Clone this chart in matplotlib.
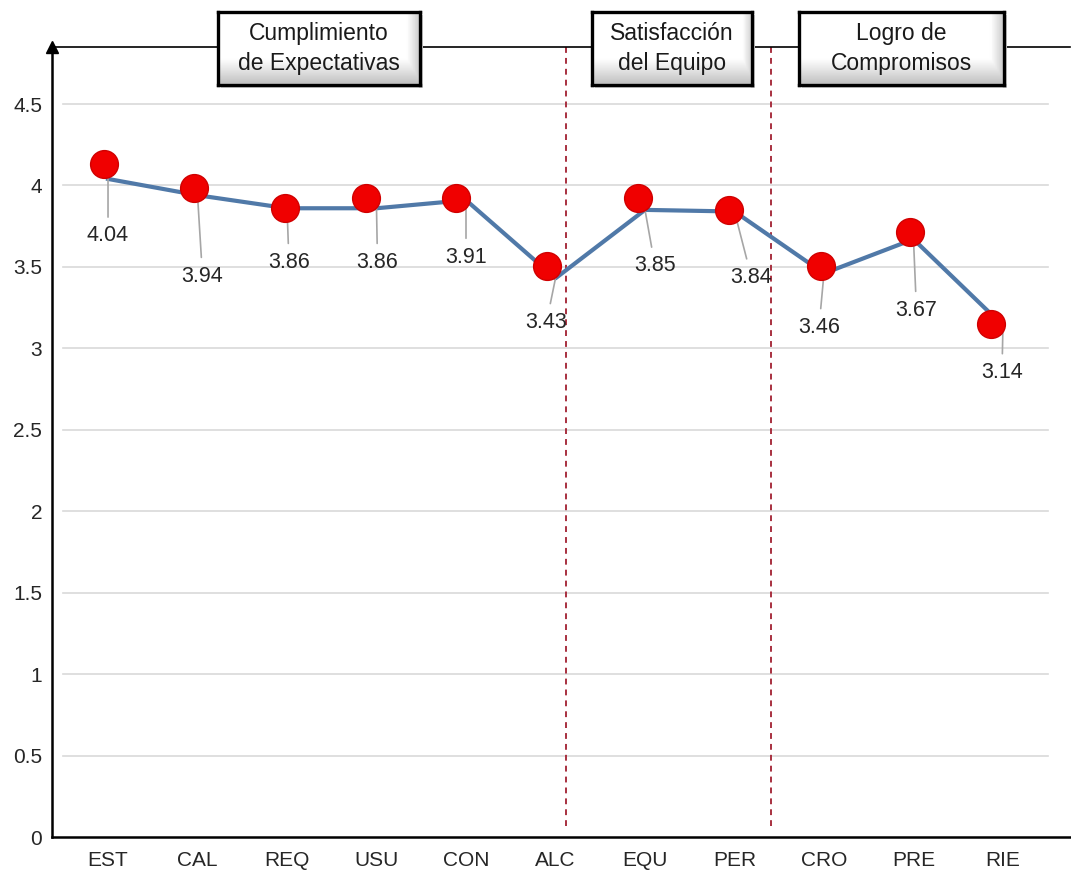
import numpy as np
import matplotlib
matplotlib.use("Agg")
import matplotlib.pyplot as plt
from matplotlib.transforms import offset_copy

plt.rcParams['font.family'] = ['Liberation Sans', 'DejaVu Sans']

categories = ['EST', 'CAL', 'REQ', 'USU', 'CON', 'ALC', 'EQU', 'PER', 'CRO', 'PRE', 'RIE']
scores = [4.04, 3.94, 3.86, 3.86, 3.91, 3.43, 3.85, 3.84, 3.46, 3.67, 3.14]
yticks = [0, 0.5, 1, 1.5, 2, 2.5, 3, 3.5, 4, 4.5]
ytick_labels = ['0', '0.5', '1', '1.5', '2', '2.5', '3', '3.5', '4', '4.5']
sections = ['Cumplimiento\nde Expectativas', 'Satisfacción\ndel Equipo', 'Logro de\nCompromisos']
section_breaks = [5.12, 7.41]

# hand placement (pixels): label offset below each point, pin offset from each point
label_offsets = [(0, 57), (5, 81), (2, 54), (1, 54), (0, 57), (-9, 44),
                 (10, 56), (17, 66), (-5, 54), (3, 71), (-1, 47)]
pin_offsets = [(-4, 15), (-4, 7), (-2, 0), (-11, 10), (-10, 2), (-8, 12),
               (-7, 12), (-5, 2), (-3, 7), (-3, 7), (-12, 2)]
# section boxes in pixels (x0, x1), all share the same top/bottom
box_px = [(218, 420), (592, 752), (799, 1004)]
box_top, box_bottom = 12, 85

W, H = 1071, 872
fig = plt.figure(figsize=(W / 100, H / 100), dpi=100)
ax = fig.add_axes([52 / W, (H - 837) / H, (1070 - 52) / W, (837 - 47) / H])

x = np.arange(len(categories))
ax.set_xlim(-0.626, 10.749)
ax.set_ylim(0, 4.85)

# grid
for yv in yticks[1:]:
    ax.plot([-0.5, 10.5], [yv, yv], color='#d9d9d9', lw=1.2, zorder=0)

# section separators
for xb in section_breaks:
    ax.plot([xb, xb], [0.07, 4.85], color='#a8303f', lw=1.4,
            linestyle=(0, (3, 2.6)), zorder=1)

ax.plot(x, scores, color='#5079a8', lw=3, zorder=3, solid_joinstyle='round')

# value labels with leader lines
for i, v in enumerate(scores):
    dx, dy = label_offsets[i]
    ax.annotate(f'{v:.2f}', xy=(i, v), xytext=(dx, -dy), textcoords='offset pixels',
                ha='center', va='center', fontsize=15.5, color='#262626', zorder=4,
                arrowprops=dict(arrowstyle='-', color='#a6a6a6', lw=1.2,
                                shrinkA=4, shrinkB=0))

# pins
for i, v in enumerate(scores):
    dx, dy = pin_offsets[i]
    tr = offset_copy(ax.transData, fig=fig, x=dx, y=dy, units='dots')
    ax.plot([i], [v], 'o', ms=20, mfc='#f00000', mec='#d00000', mew=1,
            transform=tr, zorder=5, clip_on=False)

ax.set_xticks(x)
ax.set_xticklabels(categories)
ax.set_yticks(yticks)
ax.set_yticklabels(ytick_labels)
ax.tick_params(axis='both', length=0, labelsize=15, labelcolor='#262626')
ax.tick_params(axis='x', pad=10)
ax.tick_params(axis='y', pad=7)

ax.spines['right'].set_visible(False)
ax.spines['left'].set_linewidth(1.8)
ax.spines['bottom'].set_linewidth(1.8)
ax.spines['top'].set_linewidth(1.2)
for s in ['left', 'bottom', 'top']:
    ax.spines[s].set_color('black')

# arrow head on the y axis
ax.plot([0], [1.0], marker='^', ms=8, color='black', transform=ax.transAxes,
        clip_on=False, zorder=6)

# section title boxes
gy = np.linspace(0, 1, 60)[:, None]
gx = np.linspace(0, 1, 120)[None, :]
shade = np.maximum(np.clip((0.35 - (1 - gy)) / 0.35, 0, 1) * 0.25,
                   np.clip((gx - 0.94) / 0.06, 0, 1) * 0.2)
grad = 1 - shade
for (x0, x1), title in zip(box_px, sections):
    sh = fig.add_axes([(x0 + 3) / W, (H - box_bottom - 3) / H, (x1 - x0) / W,
                       (box_bottom - box_top) / H])
    sh.set_facecolor('#cfcfcf')
    sh.set_xticks([])
    sh.set_yticks([])
    for sp in sh.spines.values():
        sp.set_visible(False)
    bx = fig.add_axes([x0 / W, (H - box_bottom) / H, (x1 - x0) / W,
                       (box_bottom - box_top) / H])
    bx.imshow(grad, cmap='gray', vmin=0, vmax=1, aspect='auto',
              extent=[0, 1, 0, 1], origin='upper')
    bx.set_xlim(0, 1)
    bx.set_ylim(0, 1)
    bx.set_xticks([])
    bx.set_yticks([])
    for sp in bx.spines.values():
        sp.set_linewidth(2.4)
        sp.set_color('black')
    bx.text(0.5, 0.5, title, ha='center', va='center', fontsize=16.5,
            color='#1a1a1a', linespacing=1.4)

fig.savefig('out.png', dpi=100, facecolor='white')
